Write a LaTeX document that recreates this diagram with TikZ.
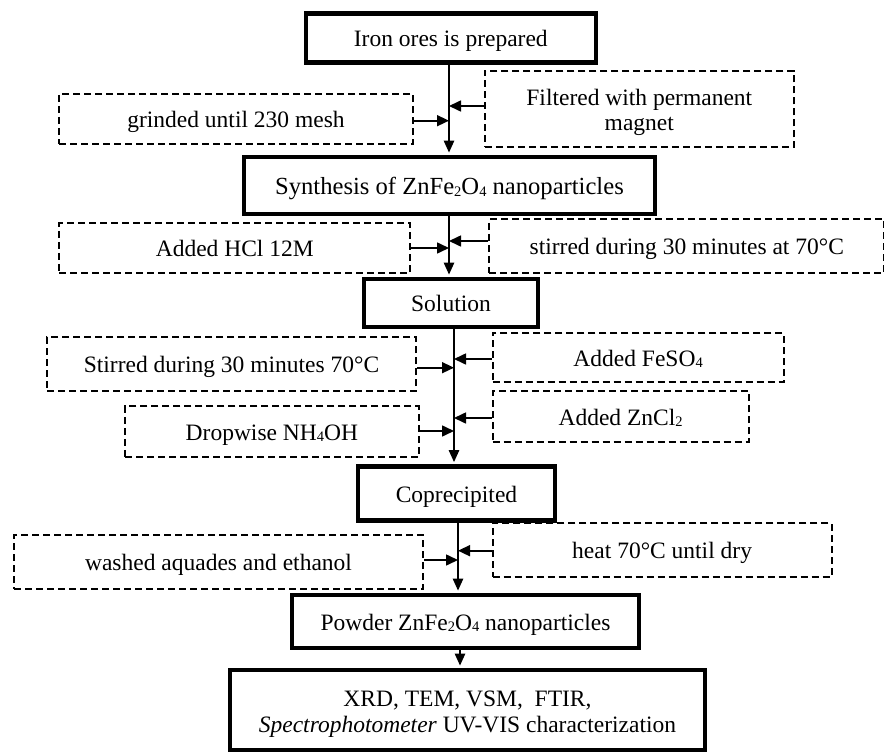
\documentclass[tikz,border=0pt]{standalone}
\usepackage{fontspec}
\setmainfont{Liberation Serif}
\usetikzlibrary{arrows.meta}
\newcommand\sbs[1]{\raisebox{-1.6pt}{\fontsize{14.5}{14.5}\selectfont #1}}
\begin{document}
\begin{tikzpicture}[x=1pt,y=-1pt,
  font=\fontsize{23.5}{27}\selectfont,
  mainbox/.style={draw, line width=4.5pt, inner sep=0pt, align=center, text height=17pt, text depth=0pt},
  sidebox/.style={draw, line width=2pt, dash pattern=on 7pt off 4pt, inner sep=0pt, align=center, text height=17pt, text depth=0pt},
  plaintext/.style={inner sep=0pt, align=center},
  spine/.style={line width=1.3pt, shorten >=2.2pt, -{Triangle[length=12pt,width=10.5pt]}},
  feed/.style={line width=1.6pt, -{Triangle[length=12pt,width=11pt]}}]
\useasboundingbox (0,0) rectangle (884,752);

% main boxes
\node[mainbox, minimum width=290pt, minimum height=48.6pt] (iron) at (450.8,38) {Iron ores is prepared};
\node[mainbox, minimum width=411pt, minimum height=57pt, font=\fontsize{24.6}{28}\selectfont, text height=18pt] (synth) at (449.5,185.5) {Synthesis of ZnFe\sbs{2}O\sbs{4} nanoparticles};
\node[mainbox, minimum width=174pt, minimum height=48pt] (sol) at (451,303) {Solution};
\node[mainbox, minimum width=197pt, minimum height=54pt] (copre) at (456.5,493.5) {Coprecipited};
\node[mainbox, minimum width=347pt, minimum height=53pt] (powder) at (465.5,621.5) {Powder ZnFe\sbs{2}O\sbs{4} nanoparticles};
\node[mainbox, minimum width=475pt, minimum height=80pt] (charac) at (467.5,710) {};
\node[plaintext, font=\fontsize{23.5}{26}\selectfont] (charactext) at (467.5,714.5) {XRD, TEM, VSM,\ \ FTIR,\\ \textit{Spectrophotometer} UV-VIS characterization};

% side boxes
\node[sidebox, minimum width=354pt, minimum height=50pt] (grind) at (236,119) {grinded until 230 mesh};
\node[sidebox, minimum width=309pt, minimum height=76.6pt] (filt) at (639.3,109) {};
\node[plaintext, font=\fontsize{23.5}{24.8}\selectfont] (filttext) at (639.3,112.6) {Filtered with permanent\\magnet};
\node[sidebox, minimum width=351pt, minimum height=49.4pt] (hcl) at (234.8,248) {Added HCl 12M};
\node[sidebox, minimum width=395pt, minimum height=53.4pt] (stirA) at (686.8,246) {stirred during 30 minutes at 70°C};
\node[sidebox, minimum width=369pt, minimum height=54pt] (stirB) at (231.5,364) {Stirred during 30 minutes 70°C};
\node[sidebox, minimum width=290.8pt, minimum height=49pt] (feso) at (638.1,357.5) {Added FeSO\sbs{4}};
\node[sidebox, minimum width=293.6pt, minimum height=51pt] (nh) at (271.9,431.5) {Dropwise NH\sbs{4}OH};
\node[sidebox, minimum width=256pt, minimum height=51pt] (zn) at (620.6,416.5) {Added ZnCl\sbs{2}};
\node[sidebox, minimum width=409pt, minimum height=54pt] (wash) at (218.5,562) {washed aquades and ethanol};
\node[sidebox, minimum width=338.8pt, minimum height=54pt] (heat) at (662.1,550) {heat 70°C until dry};

% spine x positions
\coordinate (k1) at (449,0);
\coordinate (k2) at (449,0);
\coordinate (k3) at (454,0);
\coordinate (k4) at (458,0);
\coordinate (k5) at (460,0);

% spine connectors
\draw[spine] (iron.south -| k1) -- (synth.north -| k1);
\draw[spine] (synth.south -| k2) -- (sol.north -| k2);
\draw[spine] (sol.south -| k3) -- (copre.north -| k3);
\draw[spine] (copre.south -| k4) -- (powder.north -| k4);
\draw[spine] (powder.south -| k5) -- (charac.north -| k5);

% feed arrows
\draw[feed] ([yshift=-1.7pt]grind.east) -- ([yshift=-1.7pt]grind.east -| k1);
\draw[feed] ([yshift=3pt]filt.west) -- ([yshift=3pt]filt.west -| k1);
\draw[feed] (hcl.east) -- (hcl.east -| k2);
\draw[feed] ([yshift=5pt]stirA.west) -- ([yshift=5pt]stirA.west -| k2);
\draw[feed] ([yshift=-3.7pt]stirB.east) -- ([yshift=-3.7pt]stirB.east -| k3);
\draw[feed] ([yshift=-1.5pt]feso.west) -- ([yshift=-1.5pt]feso.west -| k3);
\draw[feed] ([yshift=0.5pt]nh.east) -- ([yshift=0.5pt]nh.east -| k3);
\draw[feed] ([yshift=-1.5pt]zn.west) -- ([yshift=-1.5pt]zn.west -| k3);
\draw[feed] ([yshift=2pt]wash.east) -- ([yshift=2pt]wash.east -| k4);
\draw[feed] ([yshift=-0.7pt]heat.west) -- ([yshift=-0.7pt]heat.west -| k4);
\end{tikzpicture}
\end{document}
